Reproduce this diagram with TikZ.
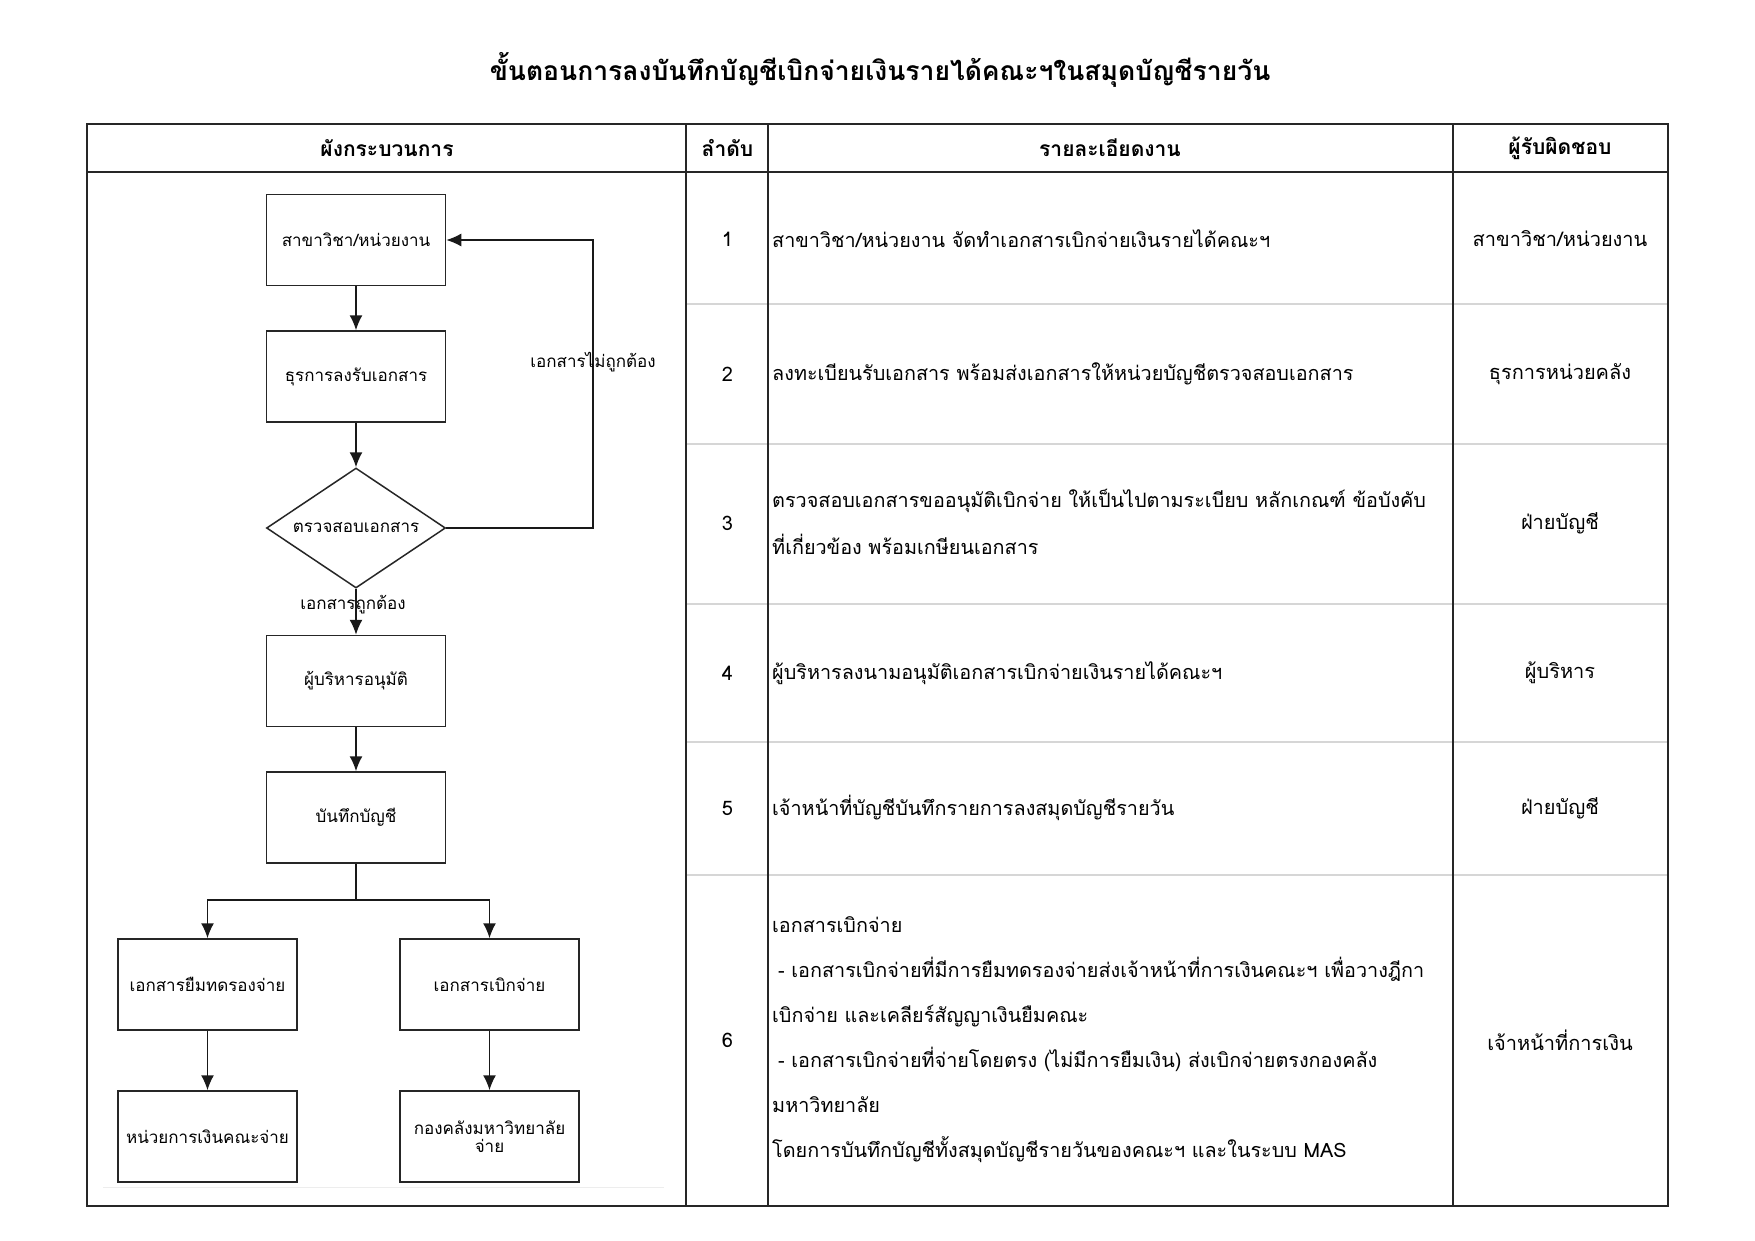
\documentclass[tikz,border=0pt]{standalone}
\usepackage{fontspec}
\setmainfont[Script=Thai]{Loma}
\usetikzlibrary{shapes.geometric,arrows.meta}
\begin{document}
\begin{tikzpicture}[x=1pt,y=-1pt,
  tbl/.style={line width=2pt, black!85},
  rowline/.style={line width=1.5pt, black!16},
  fbox/.style={draw=black!85, line width=1.5pt, rectangle, minimum width=179pt, minimum height=91pt, inner sep=2pt, font=\fontsize{17}{20}\selectfont, align=center},
  fdia/.style={draw=black!85, line width=1.5pt, diamond, aspect=1.49, minimum width=179pt, minimum height=120pt, inner sep=0pt, font=\fontsize{17}{20}\selectfont},
  arr/.style={draw=black!90, line width=1.5pt, -{Latex[length=15pt,width=13pt]}},
  ln/.style={draw=black!90, line width=1.5pt},
  hdr/.style={font=\bfseries\fontsize{21}{24}\selectfont, inner sep=0pt},
  body/.style={font=\fontsize{19.8}{46}\selectfont, align=left, anchor=west, inner sep=0pt},
  ctr/.style={font=\fontsize{20}{24}\selectfont, inner sep=0pt},
  lbl/.style={font=\fontsize{17}{20}\selectfont, inner sep=0pt},
  ttl/.style={font=\bfseries\fontsize{26.5}{32}\selectfont, inner sep=0pt}
]
\fill[white] (0,0) rectangle (1755,1240);
\useasboundingbox (0,0) rectangle (1755,1240);

% title
\node[ttl] (title) at (880,70) {ขั้นตอนการลงบันทึกบัญชีเบิกจ่ายเงินรายได้คณะฯในสมุดบัญชีรายวัน};

% table grid
\foreach \yy in {304,444,604,742,875} \draw[rowline] (687,\yy) -- (1668,\yy);
\draw[tbl] (87,172) -- (1668,172);
\draw[tbl] (686,124) -- (686,1206);
\draw[tbl] (768,124) -- (768,1206);
\draw[tbl] (1453,124) -- (1453,1206);
\draw[line width=2.4pt, black!85] (87,124) rectangle (1668,1206);

% headers
\node[hdr] (h1) at (387,148) {ผังกระบวนการ};
\node[hdr] (h2) at (727.5,148) {ลำดับ};
\node[hdr] (h3) at (1110,148) {รายละเอียดงาน};
\node[hdr] (h4) at (1560,148) {ผู้รับผิดชอบ};

% numbers
\node[ctr] (n1) at (727.5,239) {1};
\node[ctr] (n2) at (727.5,374) {2};
\node[ctr] (n3) at (727.5,523) {3};
\node[ctr] (n4) at (727.5,673) {4};
\node[ctr] (n5) at (727.5,808) {5};
\node[ctr] (n6) at (727.5,1040) {6};

% details
\node[body] (t1) at (772,239) {สาขาวิชา/หน่วยงาน จัดทำเอกสารเบิกจ่ายเงินรายได้คณะฯ};
\node[body] (t2) at (772,374) {ลงทะเบียนรับเอกสาร พร้อมส่งเอกสารให้หน่วยบัญชีตรวจสอบเอกสาร};
\node[body, font=\fontsize{19.8}{47}\selectfont] (t3) at (772,521.5) {ตรวจสอบเอกสารขออนุมัติเบิกจ่าย ให้เป็นไปตามระเบียบ หลักเกณฑ์ ข้อบังคับ\\ที่เกี่ยวข้อง พร้อมเกษียนเอกสาร};
\node[body] (t4) at (772,673) {ผู้บริหารลงนามอนุมัติเอกสารเบิกจ่ายเงินรายได้คณะฯ};
\node[body] (t5) at (772,808) {เจ้าหน้าที่บัญชีบันทึกรายการลงสมุดบัญชีรายวัน};
\node[body, font=\fontsize{19.8}{45}\selectfont] (t6) at (772,1039.5) {เอกสารเบิกจ่าย\\
\hspace*{6pt}- เอกสารเบิกจ่ายที่มีการยืมทดรองจ่ายส่งเจ้าหน้าที่การเงินคณะฯ เพื่อวางฎีกา\\
เบิกจ่าย และเคลียร์สัญญาเงินยืมคณะ\\
\hspace*{6pt}- เอกสารเบิกจ่ายที่จ่ายโดยตรง (ไม่มีการยืมเงิน) ส่งเบิกจ่ายตรงกองคลัง\\
มหาวิทยาลัย\\
โดยการบันทึกบัญชีทั้งสมุดบัญชีรายวันของคณะฯ และในระบบ MAS};

% responsible
\node[ctr] (r1) at (1560,239) {สาขาวิชา/หน่วยงาน};
\node[ctr] (r2) at (1560,374) {ธุรการหน่วยคลัง};
\node[ctr] (r3) at (1560,523) {ฝ่ายบัญชี};
\node[ctr] (r4) at (1560,673) {ผู้บริหาร};
\node[ctr] (r5) at (1560,808) {ฝ่ายบัญชี};
\node[ctr] (r6) at (1560,1040) {เจ้าหน้าที่การเงิน};

% flowchart
\node[fbox] (b1) at (356,240) {สาขาวิชา/หน่วยงาน};
\node[fbox] (b2) at (356,376.5) {ธุรการลงรับเอกสาร};
\node[fdia] (d1) at (356,528) {ตรวจสอบเอกสาร};
\node[fbox] (b3) at (356,681) {ผู้บริหารอนุมัติ};
\node[fbox] (b4) at (356,817.5) {บันทึกบัญชี};
\node[fbox] (b5) at (207.5,984.5) {เอกสารยืมทดรองจ่าย};
\node[fbox] (b6) at (489.5,984.5) {เอกสารเบิกจ่าย};
\node[fbox] (b7) at (207.5,1136.5) {หน่วยการเงินคณะจ่าย};
\node[fbox] (b8) at (489.5,1136.5) {กองคลังมหาวิทยาลัย\\[-2pt]จ่าย};

\coordinate (fb) at (593,240);
\coordinate (sp) at (356,900);

\draw[arr] (b1) -- (b2);
\draw[arr] (b2) -- (d1);
\draw[arr] (d1) -- (b3);
\draw[arr] (b3) -- (b4);
\draw[arr] (d1.east) -| (fb) -- (b1.east);
\draw[ln] (b4.south) -- (sp);
\draw[arr] (sp) -| (b5.north);
\draw[arr] (sp) -| (b6.north);
\draw[arr] (b5) -- (b7);
\draw[arr] (b6) -- (b8);

\node[lbl] (l1) at (593,362) {เอกสารไม่ถูกต้อง};
\node[lbl] (l2) at (353,605) {เอกสารถูกต้อง};

\coordinate (fa) at (103,1187);
\coordinate (fz) at (664,1187);
\draw[line width=1pt, black!7] (fa) -- (fz);
\end{tikzpicture}
\end{document}
